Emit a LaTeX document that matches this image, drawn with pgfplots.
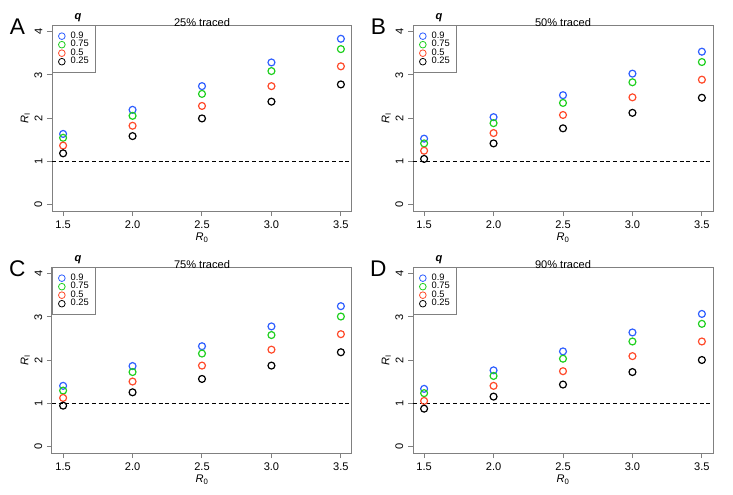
\documentclass[border=0pt]{standalone}
\usepackage{fontspec}
\setmainfont{Liberation Sans}
\usepackage{pgfplots}
\usepackage{pgfplotstable}
\pgfplotsset{compat=1.18}

\definecolor{cblue}{HTML}{2F5FFF}
\definecolor{cgreen}{HTML}{1FD01F}
\definecolor{cred}{HTML}{FF4A2A}
\definecolor{cgrey}{HTML}{808080}

% columns: R0, q=0.9, 0.75, 0.5, 0.25
\pgfplotstableread{
R0  b    g    r    k
1.5 1.63 1.54 1.36 1.18
2.0 2.19 2.05 1.82 1.58
2.5 2.74 2.56 2.28 1.99
3.0 3.29 3.09 2.74 2.38
3.5 3.84 3.60 3.20 2.78
}\tabA
\pgfplotstableread{
R0  b    g    r    k
1.5 1.52 1.41 1.24 1.05
2.0 2.02 1.88 1.65 1.41
2.5 2.53 2.35 2.07 1.76
3.0 3.03 2.83 2.48 2.12
3.5 3.54 3.30 2.89 2.47
}\tabB
\pgfplotstableread{
R0  b    g    r    k
1.5 1.40 1.29 1.12 0.94
2.0 1.86 1.72 1.50 1.25
2.5 2.32 2.15 1.87 1.56
3.0 2.78 2.58 2.24 1.87
3.5 3.25 3.01 2.60 2.18
}\tabC
\pgfplotstableread{
R0  b    g    r    k
1.5 1.33 1.23 1.05 0.87
2.0 1.76 1.63 1.40 1.15
2.5 2.20 2.03 1.74 1.43
3.0 2.64 2.43 2.09 1.72
3.5 3.07 2.84 2.43 2.00
}\tabD

\pgfplotsset{
  panel/.style={
    scale only axis, width=225pt, height=139.5pt,
    anchor=north west, clip=false,
    xmin=1.42, xmax=3.58, ymin=-0.16, ymax=4.16,
    xtick={1.5,2,2.5,3,3.5}, xticklabels={1.5,2.0,2.5,3.0,3.5},
    ytick={0,1,2,3,4},
    axis line style={cgrey, line width=0.75pt},
    tick style={cgrey, line width=0.75pt},
    tick align=outside, tick pos=left,
    major tick length=3.75pt,
    ticklabel style={font=\fontsize{8.3}{10}\selectfont},
    /pgf/number format/assume math mode=true,
    yticklabel style={rotate=90, anchor=south},
    xlabel={\textit{R}\textsubscript{0}},
    ylabel={\textit{R}\textsubscript{I}},
    label style={font=\fontsize{8.3}{10}\selectfont},
    xlabel style={at={(axis description cs:0.5,0)}, anchor=center, yshift=-20pt},
    ylabel style={at={(axis description cs:0,0.5)}, anchor=center, yshift=20pt},
    every axis title shift=0pt,
    title style={font=\fontsize{8.3}{10}\selectfont, at={(0.5,1)}, anchor=base, yshift=-0.8pt},
    legend style={at={(0,1)}, anchor=north west, draw=cgrey, line width=0.75pt,
      font=\fontsize{7}{7}\selectfont, inner xsep=4.5pt, inner ysep=4.3pt,
      nodes={inner sep=0.5pt}, row sep=-1pt},
    legend cell align=left,
    legend image code/.code={%
      \node[draw=none, fill=none, inner sep=0pt, minimum width=7pt, minimum height=4pt] at (-1.4pt,0pt) {};
      \draw[#1, mark size=2.5pt, line width=0.6pt] plot coordinates {(0pt,0pt)};},
    every axis plot/.append style={only marks, mark=o, mark size=2.6pt, line width=0.9pt},
  },
}

\newcommand{\panel}[2]{%
  \addplot[cblue] table[x=R0,y=b] {#1};
  \addplot[cgreen] table[x=R0,y=g] {#1};
  \addplot[cred] table[x=R0,y=r] {#1};
  \addplot[black] table[x=R0,y=k] {#1};
  \legend{0.9,0.75,0.5,0.25}
  \addplot[black, dash pattern=on 3pt off 2pt, line width=0.75pt, sharp plot, mark=none, forget plot] coordinates {(1.42,1) (3.58,1)};
  \node[font=\bfseries\itshape\fontsize{8.3}{10}\selectfont, anchor=south, inner sep=0pt, yshift=2.2pt] at (rel axis cs:0.087,1) {q};
  \node[font=\fontsize{17}{20}\selectfont, anchor=center, xshift=-26pt, yshift=-1.2pt] at (rel axis cs:0,1) {#2};
}

\begin{document}
\begin{tikzpicture}
\useasboundingbox (0,0) rectangle (549.75pt,370.5pt);
\begin{axis}[panel, at={(39pt,351.75pt)}, title={25\% traced}]
\panel{\tabA}{A}
\end{axis}
\begin{axis}[panel, at={(309.75pt,351.75pt)}, title={50\% traced}]
\panel{\tabB}{B}
\end{axis}
\begin{axis}[panel, at={(39pt,170.25pt)}, title={75\% traced}]
\panel{\tabC}{C}
\end{axis}
\begin{axis}[panel, at={(309.75pt,170.25pt)}, title={90\% traced}]
\panel{\tabD}{D}
\end{axis}
\end{tikzpicture}
\end{document}
